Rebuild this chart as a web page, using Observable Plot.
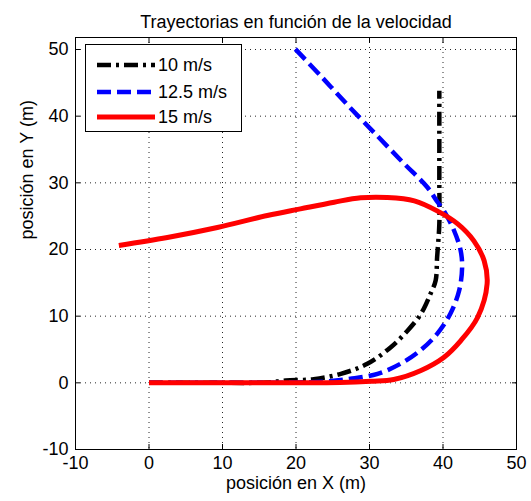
<!DOCTYPE html>
<html><head><meta charset="utf-8">
<script src="https://cdn.jsdelivr.net/npm/d3@7"></script>
<script src="https://cdn.jsdelivr.net/npm/@observablehq/plot@0.6"></script>
<style>
body{margin:0;background:#fff;}
#wrap{position:relative;width:531px;height:501px;font-family:"Liberation Sans",Arial,sans-serif;}
#legend{position:absolute;left:85px;top:44px;width:157px;height:88px;border:1px solid #000;background:#fff;box-sizing:border-box;}
.row{position:absolute;left:0;height:24px;display:flex;align-items:center;font-size:18px;color:#000;}
.row svg{display:block;}
</style></head><body><div id="wrap"></div><script>
// Series labels
const series = ["10 m/s", "12.5 m/s", "15 m/s"];
// 10 m/s trajectory
const x10 = [0, 10, 16, 18.6, 22.4, 26.1, 29.7, 32.9, 35.2, 37.0, 38.3, 39.0, 39.2, 39.5, 39.5, 39.5];
const y10 = [0, 0, 0.05, 0.35, 0.55, 1.35, 2.85, 5.35, 7.85, 10.35, 13.35, 15.35, 18.85, 23.85, 30.3, 43.8];
// 12.5 m/s trajectory
const x125 = [0, 10, 20, 24, 27.4, 31.1, 34.2, 36.9, 39.2, 41.0, 42.2, 42.6, 42.4, 41.5, 40.1, 39.2, 37.9, 34.6, 31.1, 27.0, 23.4, 19.7];
const y125 = [0, 0, 0.05, 0.2, 0.6, 1.35, 2.85, 4.85, 7.35, 10.35, 13.85, 17.3, 19.85, 22.85, 25.85, 27.2, 29.3, 33.0, 37.0, 41.7, 46.0, 50.3];
// 15 m/s trajectory
const x15 = [0, 10, 20, 26, 30.2, 33.3, 37.0, 40.1, 42.4, 44.7, 46.0, 45.6, 44.2, 42.0, 39.2, 36.1, 32.4, 28.8, 25.2, 20.6, 16.1, 9.3, 2.5, -4.1];
const y15 = [0, 0, 0, 0.05, 0.24, 0.5, 1.85, 3.8, 6.3, 9.8, 14.85, 18.3, 21.3, 23.85, 25.8, 27.3, 27.8, 27.75, 27.1, 26.1, 25.1, 23.3, 21.8, 20.6];
// Ticks
const xTicks = [-10, 0, 10, 20, 30, 40, 50];
const yTicks = [-10, 0, 10, 20, 30, 40, 50];
// Texts
const title = "Trayectorias en función de la velocidad";
const xLabel = "posición en X (m)";
const yLabel = "posición en Y (m)";

// Styles (kept separate from data)
const styles = {
  "10 m/s":   {stroke: "#000000", strokeWidth: 4.5, dash: "14,5,3,5"},
  "12.5 m/s": {stroke: "#0000ff", strokeWidth: 4.5, dash: "14,6"},
  "15 m/s":   {stroke: "#ff0000", strokeWidth: 5,   dash: null}
};

const xs = [x10, x125, x15], ys = [y10, y125, y15];
const datasets = series.map((s, i) => xs[i].map((x, j) => ({series: s, x, y: ys[i][j]})));

const gridStyle = {stroke: "#000", strokeOpacity: 0.85, strokeDasharray: "1,4"};
const font = "Liberation Sans, Arial, sans-serif";
const fmt = d => String(d);

const lineMarks = datasets.map((d, i) => {
  const st = styles[series[i]];
  return Plot.line(d, {x: "x", y: "y", stroke: st.stroke, strokeWidth: st.strokeWidth,
    strokeDasharray: st.dash, curve: "catmull-rom", strokeLinecap: "butt"});
});

const chart = Plot.plot({
  width: 531, height: 501,
  marginLeft: 75, marginRight: 15, marginTop: 37, marginBottom: 52,
  style: {fontFamily: font, fontSize: "18px", background: "#fff", color: "#000", overflow: "visible"},
  x: {domain: [-10, 50]},
  y: {domain: [-10, 51.8]},
  marks: [
    Plot.gridX(xTicks.slice(1, -1), gridStyle),
    Plot.gridY(yTicks.slice(1), gridStyle),
    Plot.axisX(xTicks, {anchor: "bottom", tickSize: 0, tickPadding: 7, label: null, fontSize: 18, tickFormat: fmt}),
    Plot.axisX(xTicks, {anchor: "bottom", tickSize: -5, tickFormat: () => "", label: null}),
    Plot.axisX(xTicks, {anchor: "top", tickSize: -5, tickFormat: () => "", label: null}),
    Plot.axisY(yTicks, {anchor: "left", tickSize: 0, tickPadding: 7, label: null, fontSize: 18, tickFormat: fmt}),
    Plot.axisY(yTicks, {anchor: "left", tickSize: -5, tickFormat: () => "", label: null}),
    Plot.axisY(yTicks, {anchor: "right", tickSize: -5, tickFormat: () => "", label: null}),
    ...lineMarks,
    Plot.frame({stroke: "#000", strokeWidth: 1}),
    Plot.text([title], {frameAnchor: "top", dy: -22, fontSize: 18}),
    Plot.text([xLabel], {frameAnchor: "bottom", dy: 39, fontSize: 18}),
    Plot.text([yLabel], {frameAnchor: "left", dx: -48, dy: -4, rotate: -90, fontSize: 18})
  ]
});

const wrap = document.getElementById("wrap");
wrap.appendChild(chart);

// Legend
const legend = document.createElement("div");
legend.id = "legend";
const rowCenters = [20, 47, 72];
series.forEach((s, i) => {
  const st = styles[s];
  const row = document.createElement("div");
  row.className = "row";
  row.style.top = (rowCenters[i] - 12) + "px";
  const svg = d3.create("svg").attr("width", 72).attr("height", 24);
  svg.append("line").attr("x1", 11).attr("x2", 69).attr("y1", 12).attr("y2", 12)
    .attr("stroke", st.stroke).attr("stroke-width", st.strokeWidth)
    .attr("stroke-dasharray", st.dash);
  row.appendChild(svg.node());
  const t = document.createElement("span");
  t.textContent = s;
  row.appendChild(t);
  legend.appendChild(row);
});
wrap.appendChild(legend);
</script></body></html>
